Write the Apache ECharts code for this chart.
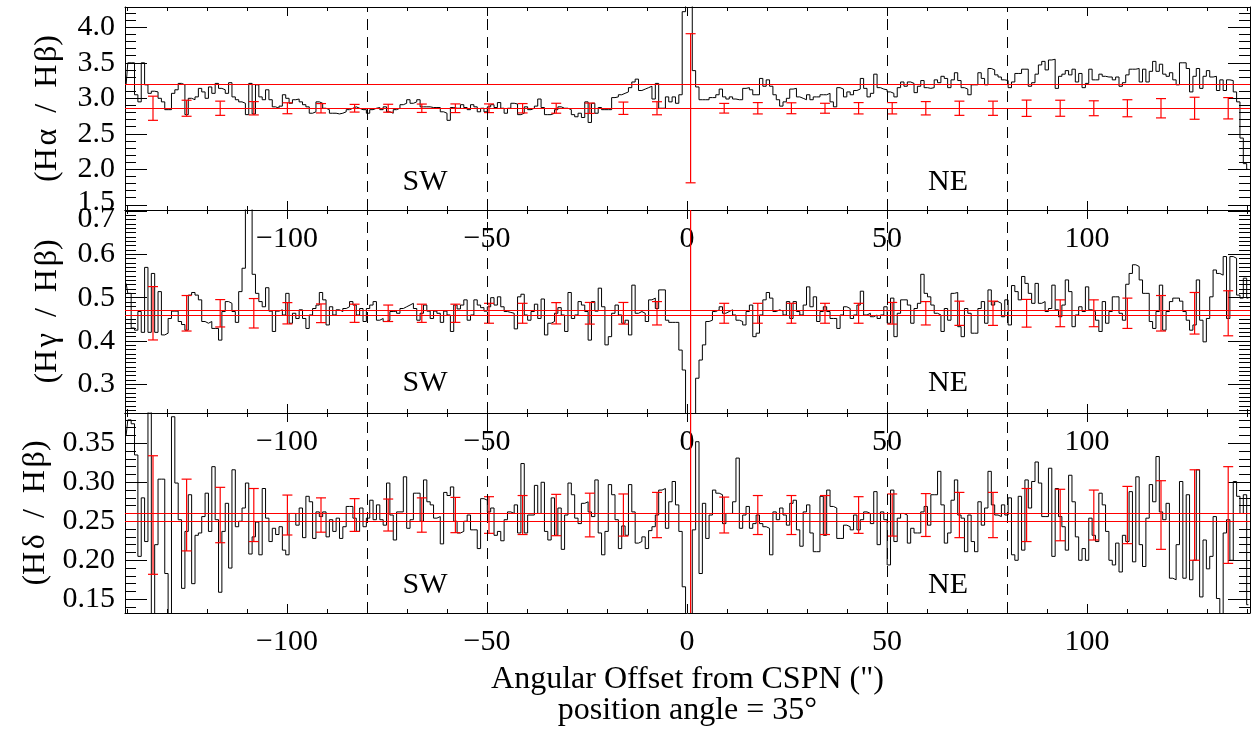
<!DOCTYPE html>
<html><head><meta charset="utf-8">
<script src="https://cdn.jsdelivr.net/npm/echarts@6/dist/echarts.min.js"></script>
<style>html,body{margin:0;padding:0;background:#fff}#c{width:1255px;height:729px}</style>
</head><body><div id="c"></div>
<script>
// bin grid of the step histograms (bin centres, arcsec)
const X0 = -140.22, DX = 0.84;

const hAlpha = [
3.19,3.5,3.5,3.05,2.95,3.5,3.19,3.07,3.1,3.09,
3.0,2.95,2.84,2.84,3.07,3.12,3.21,3.19,2.77,3.0,
2.98,3.02,3.14,3.09,3.0,3.16,3.07,3.21,3.14,3.12,
3.07,3.22,3.02,2.98,2.95,2.93,2.77,3.21,2.78,3.19,
3.02,2.98,3.12,2.98,2.88,2.86,2.89,3.05,3.0,2.93,
2.98,2.99,2.95,2.91,2.88,2.79,2.81,2.95,2.93,2.86,
2.84,2.79,2.79,2.78,2.79,2.81,2.84,2.86,2.88,2.86,
2.84,2.84,2.79,2.84,2.86,2.87,2.84,2.88,2.81,2.79,
2.84,2.86,2.91,2.93,2.98,2.93,2.95,2.98,
2.88,2.88,2.88,2.87,2.87,2.87,2.81,2.79,2.69,2.87,
2.86,2.86,2.91,2.87,2.84,2.91,2.88,2.81,2.86,2.81,
2.88,2.91,2.87,2.94,2.86,2.79,2.86,2.93,2.92,2.77,
2.79,2.88,2.84,2.86,2.89,2.99,2.87,2.77,2.77,2.79,
2.84,2.88,2.86,2.86,2.84,2.77,2.74,2.79,2.73,2.95,
2.66,2.93,2.79,2.87,2.84,2.84,2.84,3.01,3.02,3.05,
3.07,3.09,3.15,3.23,3.27,3.11,3.13,3.15,3.17,2.99,
3.21,2.86,2.86,3.02,2.95,3.02,2.93,3.05,4.22,4.7,
4.7,3.39,3.16,2.98,2.98,2.98,3.01,3.01,3.05,3.13,
3.02,2.99,3.02,2.99,2.98,2.98,3.14,3.15,3.12,3.05,
3.05,3.28,3.17,3.26,3.17,3.05,2.98,2.89,2.95,3.0,
3.13,3.14,3.02,3.0,2.98,3.05,2.98,3.02,
3.02,3.05,3.05,3.07,2.95,2.88,3.15,3.13,3.02,3.09,
3.05,3.11,3.13,3.28,3.14,3.02,3.07,3.34,3.15,3.13,
3.12,3.09,3.07,3.02,3.15,3.23,3.17,3.23,3.21,3.08,
3.17,3.25,3.15,3.14,3.15,3.26,3.22,3.31,3.28,3.15,
3.26,3.36,3.25,3.15,3.13,3.05,3.19,3.19,3.36,3.28,
3.19,3.42,3.4,3.33,3.3,3.26,3.25,3.15,3.23,3.35,
3.35,3.41,3.41,3.17,3.22,3.34,3.47,3.52,3.4,3.54,
3.55,3.14,3.31,3.34,3.39,3.33,3.41,3.23,3.35,3.15,
3.21,3.41,3.26,3.26,3.34,3.31,3.3,3.3,3.26,3.3,
3.17,3.22,3.33,3.41,3.41,3.42,3.23,3.41,3.23,3.38,
3.52,3.38,3.48,3.34,3.31,3.36,3.26,3.19,3.5,3.5,
3.42,3.09,3.31,3.42,3.14,3.31,3.39,3.3,3.31,3.11,
3.26,3.11,3.26,3.25,3.09,2.95,2.44,2.08,2.0
];

const hGamma = [
0.533,0.51,0.43,0.425,0.468,0.42,0.57,0.42,0.556,0.42,
0.514,0.414,0.418,0.452,0.469,0.469,0.445,0.438,0.425,0.506,
0.512,0.506,0.495,0.445,0.441,0.445,0.429,0.429,0.402,0.468,
0.491,0.487,0.468,0.443,0.514,0.568,0.75,0.75,0.554,0.51,
0.491,0.479,0.523,0.469,0.422,0.469,0.472,0.46,0.51,0.441,
0.464,0.452,0.472,0.452,0.429,0.46,0.475,0.483,0.512,0.495,
0.437,0.479,0.46,0.472,0.468,0.475,0.479,0.491,0.483,0.46,
0.475,0.445,0.475,0.483,0.491,0.448,0.452,0.445,0.448,0.468,
0.469,0.464,0.475,0.479,0.483,0.487,0.475,0.448,
0.464,0.483,0.469,0.452,0.469,0.464,0.443,0.469,0.46,0.422,
0.483,0.474,0.483,0.495,0.448,0.46,0.495,0.483,0.477,0.469,
0.479,0.5,0.483,0.502,0.479,0.468,0.466,0.464,0.428,0.502,
0.508,0.46,0.448,0.468,0.485,0.452,0.497,0.414,0.441,0.445,
0.464,0.477,0.46,0.422,0.512,0.452,0.46,0.491,0.483,0.468,
0.402,0.491,0.469,0.522,0.479,0.391,0.41,0.464,0.483,0.46,
0.441,0.448,0.414,0.529,0.464,0.468,0.464,0.445,0.495,0.499,
0.475,0.518,0.518,0.448,0.443,0.443,0.443,0.379,0.333,0.2,
0.2,0.2,0.314,0.356,0.391,0.445,0.448,0.468,0.472,0.479,
0.464,0.468,0.472,0.46,0.448,0.445,0.437,0.468,0.483,0.41,
0.418,0.46,0.495,0.512,0.499,0.468,0.472,0.469,0.46,0.491,
0.452,0.491,0.468,0.46,0.483,0.525,0.479,0.502,
0.445,0.468,0.479,0.468,0.452,0.452,0.429,0.46,0.479,0.475,
0.452,0.46,0.483,0.515,0.46,0.464,0.456,0.46,0.452,0.46,
0.479,0.441,0.499,0.41,0.464,0.495,0.495,0.483,0.441,0.475,
0.487,0.554,0.51,0.502,0.483,0.464,0.46,0.422,0.475,0.448,
0.51,0.512,0.433,0.41,0.475,0.464,0.418,0.418,0.475,0.491,
0.441,0.518,0.483,0.491,0.487,0.456,0.495,0.437,0.528,0.514,
0.495,0.549,0.533,0.51,0.487,0.533,0.487,0.491,0.468,0.475,
0.529,0.472,0.456,0.483,0.541,0.514,0.433,0.46,0.479,0.468,
0.525,0.472,0.468,0.448,0.422,0.491,0.441,0.468,0.502,0.502,
0.464,0.448,0.531,0.556,0.576,0.572,0.541,0.51,0.51,0.445,
0.429,0.468,0.529,0.425,0.468,0.491,0.499,0.499,0.492,0.468,
0.448,0.425,0.437,0.541,0.448,0.398,0.452,0.502,0.564,0.556,
0.552,0.595,0.452,0.595,0.591,0.506,0.499,0.545,0.499
];

const hDelta = [
0.36,0.38,0.375,0.335,0.205,0.28,0.224,0.39,0.12,0.22,
0.304,0.304,0.183,0.12,0.384,0.299,0.252,0.164,0.237,0.284,
0.17,0.232,0.235,0.256,0.286,0.237,0.32,0.252,0.159,0.237,
0.273,0.19,0.316,0.243,0.25,0.267,0.299,0.208,0.23,0.249,
0.207,0.292,0.254,0.224,0.241,0.233,0.243,0.213,0.207,0.26,
0.26,0.245,0.267,0.229,0.282,0.275,0.228,0.262,0.256,0.262,
0.23,0.252,0.237,0.254,0.228,0.243,0.269,0.269,0.254,0.237,
0.267,0.243,0.254,0.277,0.252,0.271,0.252,0.245,0.299,0.258,
0.226,0.262,0.262,0.307,0.241,0.252,0.286,0.286,
0.25,0.303,0.275,0.271,0.254,0.256,0.221,0.287,0.283,0.294,
0.25,0.235,0.237,0.25,0.258,0.239,0.239,0.215,0.279,0.277,
0.262,0.267,0.232,0.237,0.225,0.252,0.262,0.26,0.271,0.235,
0.324,0.235,0.258,0.258,0.296,0.26,0.30,0.237,0.226,0.28,
0.232,0.267,0.214,0.258,0.299,0.284,0.254,0.247,0.273,0.275,
0.262,0.256,0.303,0.235,0.207,0.237,0.297,0.284,0.252,0.215,
0.244,0.232,0.297,0.262,0.222,0.224,0.23,0.215,0.238,0.243,
0.258,0.29,0.292,0.241,0.275,0.301,0.271,0.237,0.166,0.12,
0.12,0.239,0.352,0.183,0.273,0.228,0.258,0.29,0.286,0.284,
0.247,0.26,0.26,0.275,0.331,0.241,0.258,0.269,0.241,0.247,
0.258,0.247,0.243,0.241,0.207,0.262,0.252,0.267,0.258,0.245,
0.273,0.277,0.239,0.218,0.262,0.271,0.235,0.211,
0.211,0.282,0.232,0.29,0.269,0.267,0.228,0.228,0.245,0.243,
0.239,0.258,0.239,0.252,0.262,0.26,0.247,0.288,0.22,0.262,
0.252,0.194,0.29,0.224,0.254,0.26,0.258,0.222,0.241,0.235,
0.235,0.262,0.269,0.245,0.284,0.284,0.314,0.271,0.222,0.235,
0.277,0.303,0.258,0.254,0.211,0.258,0.224,0.211,0.275,0.245,
0.267,0.314,0.271,0.258,0.256,0.271,0.258,0.28,0.207,0.2,
0.282,0.213,0.303,0.267,0.301,0.326,0.299,0.256,0.256,0.318,
0.205,0.292,0.256,0.243,0.213,0.309,0.275,0.23,0.2,0.215,
0.2,0.254,0.232,0.224,0.286,0.271,0.237,0.2,0.194,0.222,
0.185,0.232,0.224,0.288,0.198,0.307,0.22,0.192,0.254,0.297,
0.275,0.333,0.262,0.252,0.273,0.177,0.175,0.22,0.301,0.177,
0.284,0.175,0.2,0.316,0.153,0.226,0.189,0.205,0.256,0.151,
0.12,0.235,0.252,0.2,0.301,0.282,0.26,0.284,0.143
];

// error bar positions and half-lengths
const errX = [-133.5,-125.1,-116.7,-108.3,-99.9,-91.5,-83.1,-74.7,-66.3,-57.9,-49.5,-41.1,-32.7,-24.3,-15.9,-7.5,0.9,
  9.3,17.7,26.1,34.5,42.9,51.3,59.7,68.1,76.5,84.9,93.3,101.7,110.1,118.5,126.9,135.3];
const errAlpha = [0.17,0.113,0.10,0.094,0.077,0.066,0.054,0.056,0.059,0.061,0.061,0.066,0.07,0.073,0.087,0.092,1.05,
  0.068,0.08,0.077,0.07,0.08,0.08,0.094,0.1,0.1,0.115,0.113,0.105,0.12,0.136,0.155,0.15];
const errGamma = [0.0616,0.041,0.0316,0.034,0.0246,0.0216,0.021,0.019,0.021,0.021,0.023,0.023,0.0246,0.025,0.025,0.027,1.0,
  0.023,0.023,0.023,0.023,0.023,0.025,0.027,0.028,0.028,0.032,0.031,0.031,0.035,0.041,0.048,0.052];
const errDelta = [0.076,0.046,0.0355,0.034,0.0256,0.022,0.021,0.0205,0.022,0.0226,0.0235,0.025,0.0265,0.028,0.027,0.029,1.0,
  0.023,0.025,0.025,0.025,0.0235,0.027,0.0275,0.029,0.029,0.034,0.033,0.032,0.0367,0.044,0.058,0.062];

// reference lines and ticks
const dashX = [-80, -50, 50, 80];
const xMajor = [-100, -50, 0, 50, 100];
const xMinor = [-140,-130,-120,-110,-100,-90,-80,-70,-60,-50,-40,-30,-20,-10,0,10,20,30,40,50,60,70,80,90,100,110,120,130,140];

const yMajorA = [1.5, 2.0, 2.5, 3.0, 3.5, 4.0];
const yMajorG = [0.3, 0.4, 0.5, 0.6, 0.7];
const yMajorD = [0.15, 0.20, 0.25, 0.30, 0.35];
// the two tick labels that meet at the panel 1 / panel 2 boundary
const boundaryLabels = ['1.5', '0.7'];

function steps(a, b, s) { const out = []; const n = Math.round((b - a) / s); for (let i = 0; i <= n; i++) out.push(+(a + i * s).toFixed(4)); return out; }

const panels = [
  { hist: hAlpha, err: errAlpha, errC: 2.86, yMin: 1.427, yMax: 4.286, major: yMajorA, minor: steps(1.5, 4.2, 0.1), dec: 1,
    name: '(H\u200Aα  /  H\u200Aβ)', red: [3.2, 2.86], black: [], textY: 1.82, top: 7, height: 203, skip: 1.5 },
  { hist: hGamma, err: errGamma, errC: 0.464, yMin: 0.2337, yMax: 0.7025, major: yMajorG, minor: steps(0.24, 0.70, 0.01), dec: 1,
    name: '(H\u200Aγ  /  H\u200Aβ)', red: [0.4705, 0.464], black: [0.469], textY: 0.303, top: 210, height: 203, skip: 0.7 },
  { hist: hDelta, err: errDelta, errC: 0.258, yMin: 0.1324, yMax: 0.3888, major: yMajorD, minor: steps(0.14, 0.38, 0.01), dec: 2,
    name: '(H\u200Aδ  /  H\u200Aβ)', red: [0.2592, 0.2545], black: [0.258], textY: 0.168, top: 413, height: 200, skip: null }
];

const FONT = "'Liberation Serif', 'DejaVu Serif', serif";
const blk = { color: '#000', width: 1 };
const grids = [], xAxes = [], yAxes = [], series = [];

panels.forEach((p, g) => {
  grids.push({ left: 125, right: 5, top: p.top, height: p.height, containLabel: false, show: false });
  const xBase = { gridIndex: g, type: 'value', min: -140.5, max: 140.75, splitLine: { show: false } };
  xAxes.push(Object.assign({}, xBase, { position: 'bottom',
    axisLine: { show: true, onZero: false, lineStyle: blk },
    axisTick: { show: true, inside: true, length: 9, customValues: xMajor, lineStyle: blk },
    axisLabel: { show: true, customValues: xMajor, margin: 14, fontSize: 30, fontFamily: FONT, color: '#000',
      formatter: v => String(v).replace('-', '\u2212') },
    name: g === 2 ? 'Angular Offset from CSPN (")\nposition angle = 35°' : '',
    nameLocation: 'middle', nameGap: 51,
    nameTextStyle: { fontSize: 32, fontFamily: FONT, color: '#000', lineHeight: 31 } }));
  xAxes.push(Object.assign({}, xBase, { position: 'bottom',
    axisLine: { show: false, onZero: false },
    axisTick: { show: true, inside: true, length: 4, customValues: xMinor, lineStyle: blk },
    axisLabel: { show: false } }));
  xAxes.push(Object.assign({}, xBase, { position: 'top',
    axisLine: { show: true, onZero: false, lineStyle: blk },
    axisTick: { show: true, inside: true, length: 9, customValues: xMajor, lineStyle: blk },
    axisLabel: { show: false } }));
  xAxes.push(Object.assign({}, xBase, { position: 'top',
    axisLine: { show: false, onZero: false },
    axisTick: { show: true, inside: true, length: 4, customValues: xMinor, lineStyle: blk },
    axisLabel: { show: false } }));

  const yBase = { gridIndex: g, type: 'value', min: p.yMin, max: p.yMax, splitLine: { show: false } };
  const labelVals = p.skip !== null ? p.major.filter(v => Math.abs(v - p.skip) > 1e-6) : p.major;
  yAxes.push(Object.assign({}, yBase, { position: 'left',
    axisLine: { show: true, onZero: false, lineStyle: blk },
    axisTick: { show: true, inside: true, length: 22, customValues: p.major, lineStyle: blk },
    axisLabel: { show: true, customValues: labelVals, margin: 10, fontSize: 30, fontFamily: FONT, color: '#000',
      showMinLabel: true, showMaxLabel: true, hideOverlap: false,
      formatter: v => Number(v).toFixed(p.dec) },
    name: p.name, nameLocation: 'middle', nameGap: 61, nameRotate: 90,
    nameTextStyle: { fontSize: 32, fontFamily: FONT, color: '#000' } }));
  yAxes.push(Object.assign({}, yBase, { position: 'left',
    axisLine: { show: false, onZero: false },
    axisTick: { show: true, inside: true, length: 11, customValues: p.minor, lineStyle: blk },
    axisLabel: { show: false } }));
  yAxes.push(Object.assign({}, yBase, { position: 'right',
    axisLine: { show: true, onZero: false, lineStyle: blk },
    axisTick: { show: true, inside: true, length: 22, customValues: p.major, lineStyle: blk },
    axisLabel: { show: false } }));
  yAxes.push(Object.assign({}, yBase, { position: 'right',
    axisLine: { show: false, onZero: false },
    axisTick: { show: true, inside: true, length: 11, customValues: p.minor, lineStyle: blk },
    axisLabel: { show: false } }));

  const xi = g * 4, yi = g * 4;
  const mlData = [];
  dashX.forEach(x => mlData.push({ xAxis: x, lineStyle: { color: '#000', width: 1, type: [11, 7] } }));
  p.black.forEach(y => mlData.push({ yAxis: y, lineStyle: { color: '#000', width: 1, type: 'solid' } }));
  p.red.forEach(y => mlData.push({ yAxis: y, lineStyle: { color: '#ff0000', width: 1.2, type: 'solid' } }));

  series.push({
    type: 'line', xAxisIndex: xi, yAxisIndex: yi, step: 'middle', symbol: 'none', clip: true,
    data: p.hist.map((v, i) => [X0 + DX * i, v]),
    lineStyle: { color: '#000', width: 1 }, animation: false, z: 2,
    markLine: { silent: true, symbol: ['none', 'none'], label: { show: false }, animation: false, data: mlData }
  });
  series.push({
    type: 'custom', xAxisIndex: xi, yAxisIndex: yi, clip: true, animation: false, z: 4,
    data: errX.map((x, i) => [x, p.errC, p.err[i]]),
    renderItem: (params, api) => {
      const x = api.value(0), c = api.value(1), h = api.value(2);
      const t = api.coord([x, c + h]), b = api.coord([x, c - h]);
      const cw = 5, st = { stroke: '#ff0000', lineWidth: 1.2 };
      return { type: 'group', children: [
        { type: 'line', shape: { x1: t[0], y1: t[1], x2: b[0], y2: b[1] }, style: st },
        { type: 'line', shape: { x1: t[0] - cw, y1: t[1], x2: t[0] + cw, y2: t[1] }, style: st },
        { type: 'line', shape: { x1: b[0] - cw, y1: b[1], x2: b[0] + cw, y2: b[1] }, style: st }
      ] };
    }
  });
  series.push({
    type: 'scatter', xAxisIndex: xi, yAxisIndex: yi, symbolSize: 0, animation: false, silent: true,
    itemStyle: { opacity: 1 },
    data: [[-65.5, p.textY, 'SW'], [65.25, p.textY, 'NE']],
    label: { show: true, position: 'inside', formatter: d => d.value[2], fontSize: 30, fontFamily: FONT,
      color: '#000', opacity: 1 }
  });
  if (g === 1) {
    // "1.5" (panel 1 bottom) and "0.7" (panel 2 top) stacked on the shared boundary
    series.push({
      type: 'scatter', xAxisIndex: xi, yAxisIndex: yi, symbolSize: 0, animation: false, silent: true, clip: false,
      itemStyle: { opacity: 1 },
      data: [[-140.5, 0.7]],
      label: { show: true, position: 'left', distance: 10, offset: [0, 0], align: 'right',
        formatter: () => boundaryLabels.join('\n'), lineHeight: 17,
        fontSize: 30, fontFamily: FONT, color: '#000', opacity: 1 },
      labelLayout: { hideOverlap: false }
    });
  }
});

const chart = echarts.init(document.getElementById('c'), null, { renderer: 'canvas' });
chart.setOption({
  backgroundColor: '#fff', animation: false,
  grid: grids, xAxis: xAxes, yAxis: yAxes, series: series
});
</script></body></html>
